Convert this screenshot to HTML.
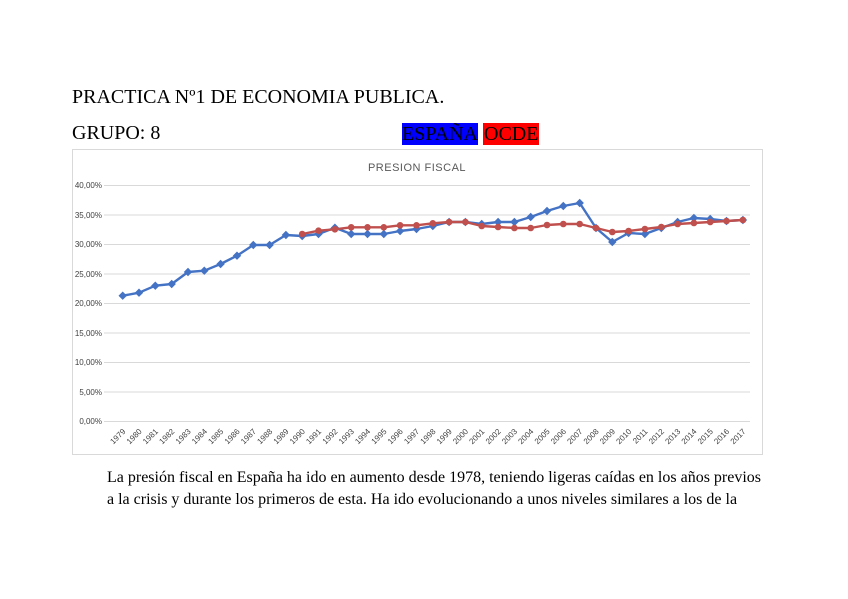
<!DOCTYPE html>
<html><head><meta charset="utf-8"><style>
body{margin:0;background:#fff;width:848px;height:599px;overflow:hidden;position:relative;font-family:"Liberation Serif",serif;}
.t{position:absolute;color:#000;font-size:20px;white-space:nowrap}
</style></head><body>
<div class="t" style="left:72px;top:86px">PRACTICA Nº1 DE ECONOMIA PUBLICA.</div>
<div class="t" style="left:72px;top:122px">GRUPO: 8</div>
<div class="t" style="left:402px;top:123px;background:#0000ff;line-height:22px;padding:0">ESPAÑA</div>
<div class="t" style="left:483px;top:123px;background:#ff0000;line-height:22px;padding:0 1px">OCDE</div>
<div class="t" style="left:107px;top:469px;font-size:16px">La presión fiscal en España ha ido en aumento desde 1978, teniendo ligeras caídas en los años previos</div>
<div class="t" style="left:107px;top:491px;font-size:16px">a la crisis y durante los primeros de esta. Ha ido evolucionando a unos niveles similares a los de la</div>
<svg width="848" height="599" style="position:absolute;left:0;top:0" font-family="Liberation Sans, sans-serif">
<defs>
<marker id="d" markerWidth="10" markerHeight="10" refX="5" refY="5" markerUnits="userSpaceOnUse"><path d="M5 0.8L9.2 5L5 9.2L0.8 5Z" fill="#4472c4"/></marker>
<marker id="c" markerWidth="10" markerHeight="10" refX="5" refY="5" markerUnits="userSpaceOnUse"><circle cx="5" cy="5" r="3.3" fill="#c0504d"/></marker>
</defs>
<rect x="72.5" y="149.5" width="690" height="305" fill="none" stroke="#d9d9d9"/>
<text x="417" y="171" font-size="11" fill="#595959" text-anchor="middle" letter-spacing="0.5">PRESION FISCAL</text>
<g stroke="#d9d9d9" stroke-width="1">
<line x1="104" x2="750" y1="185.5" y2="185.5"/><line x1="104" x2="750" y1="215" y2="215"/><line x1="104" x2="750" y1="244.5" y2="244.5"/><line x1="104" x2="750" y1="274" y2="274"/><line x1="104" x2="750" y1="303.5" y2="303.5"/><line x1="104" x2="750" y1="333" y2="333"/><line x1="104" x2="750" y1="362.5" y2="362.5"/><line x1="104" x2="750" y1="392" y2="392"/><line x1="104" x2="750" y1="421.5" y2="421.5"/>
</g>
<g font-size="8" fill="#404040" text-anchor="end">
<text x="102" y="188">40,00%</text><text x="102" y="218">35,00%</text><text x="102" y="247">30,00%</text><text x="102" y="277">25,00%</text><text x="102" y="306">20,00%</text><text x="102" y="336">15,00%</text><text x="102" y="365">10,00%</text><text x="102" y="395">5,00%</text><text x="102" y="424">0,00%</text>
</g>
<g font-size="8" fill="#404040" text-anchor="end">
<text transform="translate(126,432) rotate(-45)">1979</text><text transform="translate(142.3,432) rotate(-45)">1980</text><text transform="translate(158.6,432) rotate(-45)">1981</text><text transform="translate(175,432) rotate(-45)">1982</text><text transform="translate(191.3,432) rotate(-45)">1983</text><text transform="translate(207.6,432) rotate(-45)">1984</text><text transform="translate(223.9,432) rotate(-45)">1985</text><text transform="translate(240.3,432) rotate(-45)">1986</text><text transform="translate(256.6,432) rotate(-45)">1987</text><text transform="translate(272.9,432) rotate(-45)">1988</text><text transform="translate(289.2,432) rotate(-45)">1989</text><text transform="translate(305.5,432) rotate(-45)">1990</text><text transform="translate(321.8,432) rotate(-45)">1991</text><text transform="translate(338.2,432) rotate(-45)">1992</text><text transform="translate(354.5,432) rotate(-45)">1993</text><text transform="translate(370.8,432) rotate(-45)">1994</text><text transform="translate(387.1,432) rotate(-45)">1995</text><text transform="translate(403.4,432) rotate(-45)">1996</text><text transform="translate(419.8,432) rotate(-45)">1997</text><text transform="translate(436.1,432) rotate(-45)">1998</text><text transform="translate(452.4,432) rotate(-45)">1999</text><text transform="translate(468.7,432) rotate(-45)">2000</text><text transform="translate(485,432) rotate(-45)">2001</text><text transform="translate(501.4,432) rotate(-45)">2002</text><text transform="translate(517.7,432) rotate(-45)">2003</text><text transform="translate(534,432) rotate(-45)">2004</text><text transform="translate(550.3,432) rotate(-45)">2005</text><text transform="translate(566.6,432) rotate(-45)">2006</text><text transform="translate(583,432) rotate(-45)">2007</text><text transform="translate(599.3,432) rotate(-45)">2008</text><text transform="translate(615.6,432) rotate(-45)">2009</text><text transform="translate(631.9,432) rotate(-45)">2010</text><text transform="translate(648.2,432) rotate(-45)">2011</text><text transform="translate(664.6,432) rotate(-45)">2012</text><text transform="translate(680.9,432) rotate(-45)">2013</text><text transform="translate(697.2,432) rotate(-45)">2014</text><text transform="translate(713.5,432) rotate(-45)">2015</text><text transform="translate(729.8,432) rotate(-45)">2016</text><text transform="translate(746.2,432) rotate(-45)">2017</text>
</g>
<polyline fill="none" stroke="#4472c4" stroke-width="2.4" stroke-linejoin="round" marker-start="url(#d)" marker-mid="url(#d)" marker-end="url(#d)"
points="122.7,295.7 139,292.7 155.3,285.7 171.7,284 188,272 204.3,270.7 220.6,264 237,255.7 253.3,245 269.6,245 285.9,235 302.2,236 318.5,234 334.9,227.7 351.2,234 367.5,234 383.8,234 400.1,231 416.5,229 432.8,226 449.1,222 465.4,222 481.7,224 498.1,222 514.4,222 530.7,217 547,211 563.3,206 579.7,203 596,228 612.3,242 628.6,233 644.9,234 661.3,228 677.6,222 693.9,218 710.2,219 726.5,221 742.9,220"/>
<polyline fill="none" stroke="#c0504d" stroke-width="2.4" stroke-linejoin="round" marker-start="url(#c)" marker-mid="url(#c)" marker-end="url(#c)"
points="302.2,234 318.5,230.7 334.9,229.3 351.2,227.3 367.5,227.3 383.8,227.3 400.1,225.3 416.5,225.3 432.8,223.3 449.1,222 465.4,222 481.7,226 498.1,227 514.4,228 530.7,228 547,225 563.3,224 579.7,224 596,228 612.3,232 628.6,231 644.9,229 661.3,227 677.6,224 693.9,223 710.2,222 726.5,221 742.9,220"/>
</svg>
</body></html>
